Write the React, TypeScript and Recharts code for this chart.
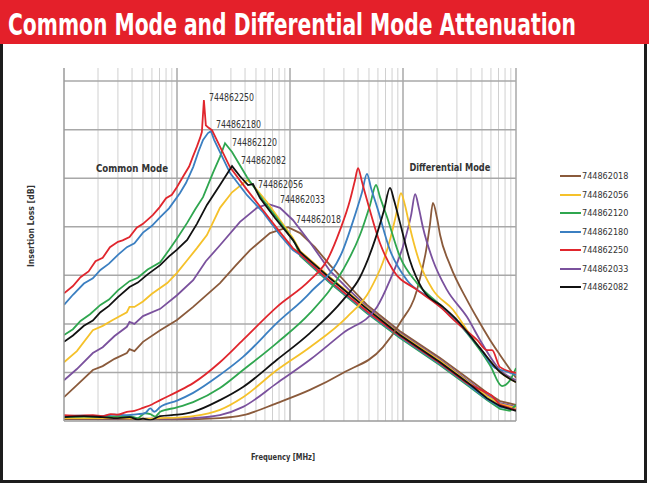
import React from "react";
import {
  LineChart,
  Line,
  XAxis,
  YAxis,
  ReferenceLine,
  ReferenceDot,
  Legend,
} from "recharts";

type Pt = [number, number]; // [frequency MHz, insertion loss dB]

// legend order as in the reference
const PARTS = [
  "744862018",
  "744862056",
  "744862120",
  "744862180",
  "744862250",
  "744862033",
  "744862082",
];

// draw order (last on top)
const DRAW_ORDER = [
  "744862018",
  "744862033",
  "744862056",
  "744862120",
  "744862180",
  "744862250",
  "744862082",
];

const FREQ_MINOR = [
  0.2, 0.3, 0.4, 0.5, 0.6, 0.7, 0.8, 0.9,
  2, 3, 4, 5, 6, 7, 8, 9,
  20, 30, 40, 50, 60, 70, 80, 90,
  200, 300, 400, 500, 600, 700, 800, 900,
];
const FREQ_MAJOR = [1, 10, 100, 1000];
const LOSS_TICKS = [0, 10, 20, 30, 40, 50, 60, 70];

// common mode curves
const cm250: Pt[] = [[0.1,26.3],[0.12,27.8],[0.14,29.6],[0.165,30.8],[0.19,32.9],[0.22,33.6],[0.255,35.8],[0.3,36.9],[0.33,37.2],[0.38,37.9],[0.44,39.8],[0.5,40.6],[0.61,42.4],[0.7,44.0],[0.8,45.9],[0.9,46.6],[1.0,48.2],[1.15,50.6],[1.28,52.4],[1.38,54.4],[1.5,56.5],[1.6,58.3],[1.66,59.5],[1.73,66.1],[1.8,60.9],[1.88,60.5],[2.04,59.9],[2.94,52.3],[4.17,47.6],[5.77,43.4],[8.15,38.9],[10.6,35.6],[12.3,34.4],[22.6,28.8],[48.0,22.6],[94.1,17.5],[213,11.9],[369,7.8],[554,5.8],[614,5.2],[722,3.3],[1000,2.3]];
const cm180: Pt[] = [[0.1,23.9],[0.12,26.0],[0.15,28.3],[0.18,29.4],[0.21,31.1],[0.25,32.4],[0.3,34.2],[0.36,35.8],[0.42,36.6],[0.5,38.8],[0.6,40.2],[0.71,42.0],[0.85,43.8],[1.06,46.9],[1.2,49.0],[1.39,52.3],[1.55,55.5],[1.7,57.9],[1.88,59.3],[2.0,59.7],[2.13,57.9],[2.94,51.1],[4.17,46.5],[5.77,43.0],[8.15,38.3],[10.6,35.2],[12.3,34.2],[22.6,28.6],[48.0,22.4],[94.1,17.3],[213,11.7],[369,7.6],[554,4.5],[722,2.9],[1000,2.3]];
const cm120: Pt[] = [[0.1,17.7],[0.12,18.9],[0.14,20.6],[0.17,22.0],[0.21,23.9],[0.25,25.0],[0.3,26.9],[0.38,28.8],[0.45,29.5],[0.55,31.2],[0.71,32.7],[0.85,35.2],[1.0,37.6],[1.23,40.8],[1.45,43.6],[1.7,46.1],[2.08,51.1],[2.4,54.4],[2.66,57.2],[3.07,55.4],[4.17,50.2],[5.77,45.5],[8.15,41.0],[11.1,36.6],[12.3,34.0],[22.6,28.4],[48.0,22.2],[94.1,17.1],[213,11.5],[369,7.4],[554,4.3],[722,2.5],[885,2.1],[1000,3.3]];
const cm082: Pt[] = [[0.1,16.3],[0.12,17.6],[0.15,19.6],[0.18,20.7],[0.21,22.4],[0.25,23.7],[0.3,25.5],[0.38,27.6],[0.45,28.5],[0.55,30.2],[0.71,32.1],[0.85,33.9],[1.0,35.3],[1.23,37.3],[1.5,40.6],[1.84,44.5],[2.4,48.6],[3.07,52.5],[3.61,50.4],[4.25,48.6],[4.7,48.8],[5.43,45.9],[7.37,41.8],[10.6,37.3],[12.3,34.8],[22.6,29.4],[48.0,23.1],[94.1,17.7],[213,12.1],[369,8.0],[554,4.7],[722,3.1],[1000,2.1]];
const cm056: Pt[] = [[0.1,12.1],[0.13,14.4],[0.18,18.7],[0.22,19.6],[0.27,20.8],[0.36,22.4],[0.38,23.5],[0.42,23.5],[0.5,24.6],[0.6,26.2],[0.82,28.4],[1.0,30.5],[1.23,33.1],[1.5,35.6],[1.84,38.3],[2.4,43.9],[3.07,47.1],[4.17,49.6],[4.61,48.8],[6.26,45.1],[8.15,41.4],[10.6,37.7],[12.3,35.0],[22.6,29.6],[48.0,23.3],[94.1,17.9],[213,12.4],[369,8.2],[554,5.1],[722,3.5],[1000,2.7]];
const cm033: Pt[] = [[0.1,8.4],[0.13,10.7],[0.18,14.0],[0.22,15.2],[0.28,17.5],[0.36,19.4],[0.38,20.4],[0.42,20.0],[0.5,21.6],[0.71,23.1],[1.0,25.9],[1.39,29.0],[1.8,32.9],[2.4,36.2],[3.61,41.0],[5.1,43.9],[6.39,44.7],[8.15,43.9],[10.6,41.4],[15.0,36.8],[22.6,30.9],[34,26.8],[48.0,23.5],[94.1,18.1],[213,12.6],[369,8.4],[554,5.4],[722,3.7],[1000,2.9]];
const cm018: Pt[] = [[0.1,4.9],[0.13,7.4],[0.18,10.5],[0.22,11.3],[0.28,12.8],[0.36,14.0],[0.38,14.8],[0.42,14.4],[0.5,16.3],[0.71,18.7],[1.0,20.8],[1.39,23.5],[2.4,28.4],[3.3,32.0],[4.43,35.2],[6.65,38.7],[9.6,39.9],[12.3,38.7],[16.6,35.8],[22.6,32.1],[34,27.6],[48,23.9],[94.1,18.5],[213,13.0],[369,8.9],[554,5.8],[722,4.1],[1000,3.3]];

// differential mode curves
const dm250: Pt[] = [[0.1,1.2],[0.13,1.1],[0.18,1.2],[0.22,1.0],[0.26,1.4],[0.3,1.3],[0.36,1.9],[0.42,2.1],[0.5,2.7],[0.6,3.4],[0.71,4.3],[1.0,6.0],[1.39,7.8],[2.4,12.1],[3.84,16.7],[7.67,23.5],[15.0,29.0],[21.3,33.1],[27.7,39.3],[34.0,45.5],[37.6,49.6],[40.0,52.1],[43.4,49.2],[48.0,45.5],[62.6,36.6],[81.5,31.1],[133,27.0],[213,23.5],[301,20.2],[452,16.7],[554,14.6],[614,14.6],[722,11.1],[1000,9.9]];
const dm180: Pt[] = [[0.1,1.0],[0.14,1.1],[0.21,1.0],[0.28,1.3],[0.36,1.2],[0.45,1.4],[0.52,1.6],[0.58,2.6],[0.63,1.9],[0.71,2.9],[1.0,4.2],[1.39,5.8],[2.4,9.5],[3.84,13.2],[7.67,20.2],[15.0,26.4],[29.4,35.2],[37.6,42.4],[43.4,47.1],[48.0,50.9],[52.1,48.0],[58.9,44.1],[76.7,35.2],[108.5,29.0],[173,25.3],[320,19.8],[480,15.0],[652,10.9],[799,10.3],[1000,9.5]];
const dm120: Pt[] = [[0.1,0.8],[0.15,0.9],[0.22,0.8],[0.3,1.0],[0.38,1.0],[0.45,0.6],[0.52,1.6],[0.58,1.4],[0.64,0.9],[0.71,1.9],[1.0,2.8],[1.39,3.9],[2.4,6.8],[3.84,10.5],[7.67,16.1],[15.0,22.2],[29.4,31.1],[41.6,38.3],[51.1,44.5],[57.7,48.6],[62.6,46.1],[72.2,42.0],[94.1,33.8],[133,28.4],[213,23.9],[369,18.1],[589,11.5],[752,7.2],[885,8.4],[1000,10.9]];
const dm082: Pt[] = [[0.1,0.8],[0.15,1.0],[0.22,0.8],[0.3,0.6],[0.38,0.8],[0.45,0.3],[0.5,0.5],[0.58,0.2],[0.71,1.0],[1.0,1.3],[1.39,1.9],[2.4,4.3],[3.84,7.0],[7.67,12.6],[15.0,18.1],[29.4,24.9],[41.6,29.6],[56.5,37.3],[67.9,43.4],[76.7,48.0],[83.2,45.5],[94.1,40.8],[115,33.1],[150,27.0],[226,23.5],[301,20.8],[480,15.0],[722,10.1],[1000,8.0]];
const dm056: Pt[] = [[0.1,0.6],[0.3,0.6],[0.5,0.5],[0.71,0.6],[1.0,0.7],[1.39,1.0],[2.4,2.3],[3.84,4.9],[7.67,10.5],[15.0,15.2],[31.9,21.4],[51.1,27.0],[76.7,37.3],[86.7,42.4],[96.0,46.9],[104,44.5],[115,39.9],[141,32.5],[184,27.0],[277,22.9],[369,18.7],[480,15.0],[722,10.1],[1000,8.0]];
const dm033: Pt[] = [[0.1,0.6],[0.5,0.5],[1.0,0.5],[1.39,0.6],[2.4,1.2],[3.84,2.9],[7.67,7.8],[15.0,12.6],[29.4,18.1],[58.9,23.5],[76.7,29.0],[104,37.3],[118,42.4],[128,46.7],[138,43.9],[150,39.9],[184,33.1],[245,27.0],[369,21.4],[480,16.7],[722,10.5],[1000,8.4]];
const dm018: Pt[] = [[0.1,0.4],[1.0,0.3],[2.4,0.6],[3.84,1.2],[7.67,3.7],[15.0,6.4],[29.4,9.9],[66.5,15.2],[94.1,20.2],[133,27.0],[163,36.2],[173,40.4],[184,44.9],[200,41.8],[213,38.3],[261,32.1],[369,24.9],[452,21.2],[589,16.7],[722,13.6],[1000,8.9]];

const CURVES: Record<string, { cm: Pt[]; dm: Pt[]; color: string }> = {
  "744862018": { cm: cm018, dm: dm018, color: "#8a5a3b" },
  "744862056": { cm: cm056, dm: dm056, color: "#f5c12a" },
  "744862120": { cm: cm120, dm: dm120, color: "#2fa64f" },
  "744862180": { cm: cm180, dm: dm180, color: "#3b7fc1" },
  "744862250": { cm: cm250, dm: dm250, color: "#e0262d" },
  "744862033": { cm: cm033, dm: dm033, color: "#7a519d" },
  "744862082": { cm: cm082, dm: dm082, color: "#111111" },
};

// part number tags next to the common mode peaks: [part, freq, dB]
const PEAK_TAGS: [string, number, number][] = [
  ["744862250", 1.92, 66.7],
  ["744862180", 2.21, 61.1],
  ["744862120", 3.07, 57.4],
  ["744862082", 3.69, 53.7],
  ["744862056", 5.21, 48.8],
  ["744862033", 8.15, 45.7],
  ["744862018", 11.3, 41.4],
];

const COND = "'DejaVu Sans Condensed', 'Liberation Sans Narrow', 'Liberation Sans', sans-serif";
const TXT = "#333";
const TITLE_SQUEEZE = 0.68;

const toRows = (pts: Pt[]) => pts.map(([f, v]) => ({ f, v }));

// text squeezed to the width it has in the reference
const fitText = (
  value: string,
  len: number,
  size: number,
  anchor: "start" | "middle",
  bold = false
) => ({ viewBox }: any) => (
  <text
    x={viewBox.x}
    y={viewBox.y}
    dy="0.35em"
    textAnchor={anchor}
    fontFamily={COND}
    fontSize={size}
    fontWeight={bold ? "bold" : "normal"}
    fill={TXT}
    textLength={len}
    lengthAdjust="spacingAndGlyphs"
  >
    {value}
  </text>
);

const renderLegend = () => (
  <div style={{ fontFamily: COND, fontSize: 9, color: TXT }}>
    {PARTS.map((p) => (
      <div key={p} style={{ display: "flex", alignItems: "center", height: 18.5 }}>
        <span
          style={{
            display: "inline-block",
            width: 21,
            height: 2,
            background: CURVES[p].color,
            marginRight: 1,
          }}
        />
        <span>{p}</span>
      </div>
    ))}
  </div>
);

export default function App() {
  return (
    <div style={{ position: "relative", width: 649, height: 486, background: "#fff", overflow: "hidden" }}>
      <style>{`body{margin:0}`}</style>
      {/* title bar */}
      <div style={{ position: "absolute", left: 0, top: 0, width: 649, height: 44, background: "#e4202a" }}>
        <svg width={649} height={44}>
          <g transform={`scale(${TITLE_SQUEEZE} 1)`}>
            <text
              x={8 / TITLE_SQUEEZE}
              y={35}
              fill="#fff"
              fontSize={31}
              fontWeight="bold"
              fontFamily={COND}
              textLength={568 / TITLE_SQUEEZE}
              lengthAdjust="spacingAndGlyphs"
            >
              Common Mode and Differential Mode Attenuation
            </text>
          </g>
        </svg>
      </div>
      {/* frame */}
      <div
        style={{
          position: "absolute",
          left: 0,
          top: 44,
          width: 647,
          height: 439,
          boxSizing: "border-box",
          borderLeft: "3px solid #1c1c1c",
          borderRight: "3px solid #1c1c1c",
          borderBottom: "3px solid #1c1c1c",
        }}
      />
      <div style={{ position: "absolute", left: 0, top: 0 }}>
        <LineChart width={649} height={486} margin={{ top: 68, right: 133, left: 24, bottom: 20 }}>
          <XAxis
            dataKey="f"
            type="number"
            scale="log"
            domain={[0.1, 1000]}
            allowDataOverflow
            tick={false}
            tickLine={false}
            height={45}
            axisLine={{ stroke: "#9a9a9a", strokeWidth: 1.5 }}
            label={{
              content: ({ viewBox }: any) => (
                <text
                  x={viewBox.x + viewBox.width / 2 - 7}
                  y={viewBox.y + 39}
                  textAnchor="middle"
                  fontFamily={COND}
                  fontWeight="bold"
                  fontSize={9.5}
                  fill={TXT}
                  textLength={64}
                  lengthAdjust="spacingAndGlyphs"
                >
                  Frequency [MHz]
                </text>
              ),
            }}
          />
          <YAxis
            type="number"
            domain={[0, 72.7]}
            ticks={LOSS_TICKS}
            allowDataOverflow
            tick={false}
            tickLine={false}
            width={40}
            axisLine={{ stroke: "#9a9a9a", strokeWidth: 1.5 }}
            label={{
              content: ({ viewBox }: any) => (
                <text
                  x={viewBox.x + 10}
                  y={viewBox.y + 158}
                  transform={`rotate(-90 ${viewBox.x + 10} ${viewBox.y + 158})`}
                  textAnchor="middle"
                  fontFamily={COND}
                  fontWeight="bold"
                  fontSize={9.5}
                  fill={TXT}
                  textLength={82}
                  lengthAdjust="spacingAndGlyphs"
                >
                  Insertion Loss [dB]
                </text>
              ),
            }}
          />
          {FREQ_MINOR.map((t) => (
            <ReferenceLine key={`m${t}`} x={t} stroke="#d0d0d0" strokeWidth={1} />
          ))}
          {LOSS_TICKS.slice(1).map((t) => (
            <ReferenceLine key={`h${t}`} y={t} stroke="#a8a8a8" strokeWidth={1.5} />
          ))}
          {FREQ_MAJOR.map((t) => (
            <ReferenceLine key={`v${t}`} x={t} stroke="#a8a8a8" strokeWidth={1.5} />
          ))}
          <Legend
            layout="vertical"
            align="center"
            verticalAlign="middle"
            content={renderLegend}
            wrapperStyle={{ left: 560, top: 167, width: 80 }}
          />
          {DRAW_ORDER.map((p) => (
            <Line
              key={`cm${p}`}
              data={toRows(CURVES[p].cm)}
              dataKey="v"
              name={p}
              type="linear"
              stroke={CURVES[p].color}
              strokeWidth={1.8}
              dot={false}
              activeDot={false}
              legendType="none"
              isAnimationActive={false}
            />
          ))}
          {DRAW_ORDER.map((p) => (
            <Line
              key={`dm${p}`}
              data={toRows(CURVES[p].dm)}
              dataKey="v"
              name={`${p} DM`}
              type="monotone"
              stroke={CURVES[p].color}
              strokeWidth={1.8}
              dot={false}
              activeDot={false}
              legendType="none"
              isAnimationActive={false}
            />
          ))}
          <ReferenceDot
            x={0.4}
            y={52.1}
            r={0}
            label={{ content: fitText("Common Mode", 72, 10.5, "middle", true) }}
          />
          <ReferenceDot
            x={260}
            y={52.3}
            r={0}
            label={{ content: fitText("Differential Mode", 81, 10.5, "middle", true) }}
          />
          {PEAK_TAGS.map(([p, f, v]) => (
            <ReferenceDot
              key={`tag${p}`}
              x={f}
              y={v}
              r={0}
              label={{ content: fitText(p, 45, 10, "start") }}
            />
          ))}
        </LineChart>
      </div>
    </div>
  );
}
